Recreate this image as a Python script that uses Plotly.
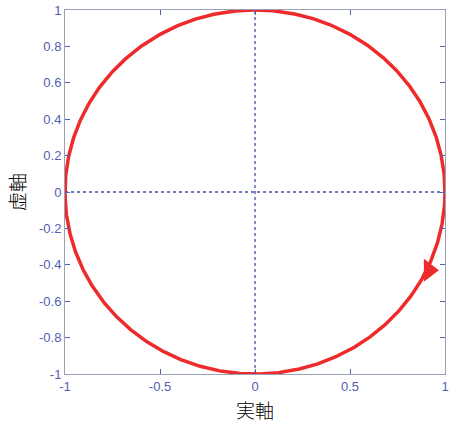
import numpy as np
import plotly.graph_objects as go

# data
radius = 1.0
theta_deg = np.linspace(0, 360, 721)
arrow_x = [0.915]
arrow_y = [-0.43]
x_ticks = [-1, -0.5, 0, 0.5, 1]
x_labels = ["-1", "-0.5", "0", "0.5", "1"]
y_ticks = [-1, -0.8, -0.6, -0.4, -0.2, 0, 0.2, 0.4, 0.6, 0.8, 1]
y_labels = ["-1", "-0.8", "-0.6", "-0.4", "-0.2", "0", "0.2", "0.4", "0.6", "0.8", "1"]
x_title = "実軸"
y_title = "虚軸"

th = np.deg2rad(theta_deg)
cx = radius * np.cos(th)
cy = radius * np.sin(th)

red = "#ee2a2a"
tickc = "#5060b0"

fig = go.Figure()
# dotted axes
fig.add_trace(go.Scatter(x=[-1, 1], y=[0, 0], mode="lines",
                         line=dict(color="#4050a8", width=1.3, dash="dot"), hoverinfo="skip"))
fig.add_trace(go.Scatter(x=[0, 0], y=[-1, 1], mode="lines",
                         line=dict(color="#4050a8", width=1.3, dash="dot"), hoverinfo="skip"))
fig.add_trace(go.Scatter(x=cx, y=cy, mode="lines", line=dict(color=red, width=3.5),
                         cliponaxis=False, hoverinfo="skip"))
fig.add_trace(go.Scatter(x=arrow_x, y=arrow_y, mode="markers", cliponaxis=False, hoverinfo="skip",
                         marker=dict(symbol="triangle-right", size=20, color=red, angle=0,
                                     line=dict(width=0))))

axis_common = dict(
    showgrid=False, zeroline=False, showline=True, linecolor="#9aa0b8", linewidth=1,
    mirror="ticks", ticks="inside", ticklen=5, tickcolor=tickc, automargin=False,
    tickfont=dict(family="Liberation Sans, Arial, sans-serif", size=13, color=tickc),
)
fig.update_xaxes(range=[-1, 1], tickvals=x_ticks, ticktext=x_labels,
                 title=dict(text=x_title, font=dict(family="Noto Sans CJK JP", size=19, color="black", weight=300), standoff=12),
                 **axis_common)
fig.update_yaxes(range=[-1, 1], tickvals=y_ticks, ticktext=y_labels,
                 title=dict(text=y_title, font=dict(family="Noto Sans CJK JP", size=19, color="black", weight=300), standoff=8),
                 **axis_common)
fig.update_layout(width=451, height=432, margin=dict(l=65, r=6, t=10, b=58),
                  plot_bgcolor="white", paper_bgcolor="white", showlegend=False)
fig.write_html("out.html", config={"displayModeBar": False},
               post_script="document.body.style.margin='0';document.body.style.overflow='hidden';")
